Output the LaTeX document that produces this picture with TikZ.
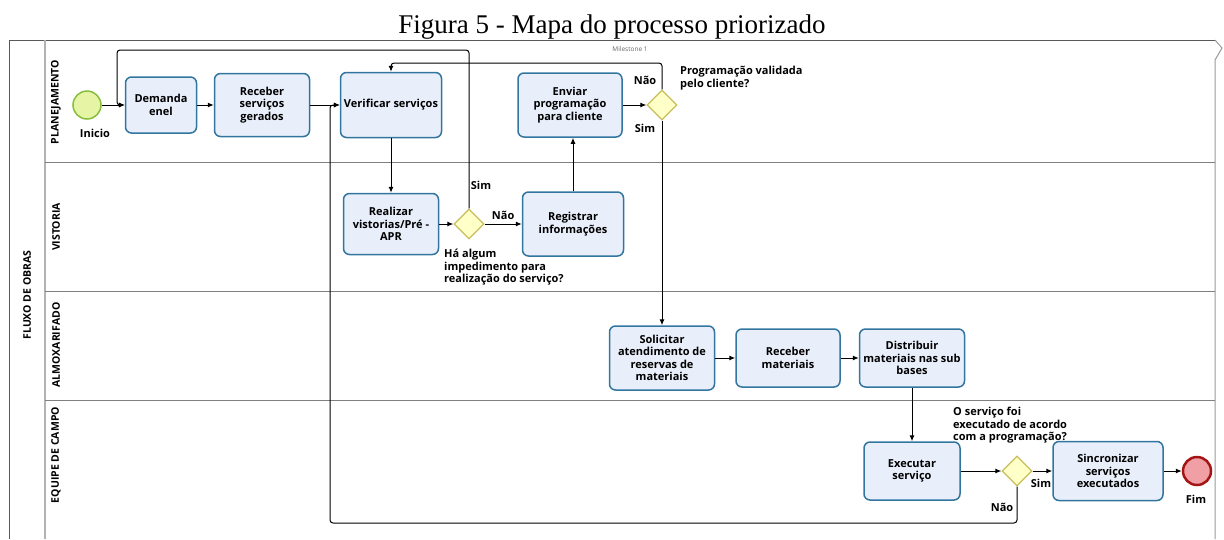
\documentclass[tikz,border=0pt]{standalone}
\usepackage{fontspec}
\setmainfont{Liberation Serif}
\setsansfont{Open Sans}
\usetikzlibrary{shapes.geometric,arrows.meta}

\definecolor{taskfill}{RGB}{232,238,250}
\definecolor{taskline}{RGB}{50,118,160}
\definecolor{startfill}{RGB}{230,245,165}
\definecolor{startline}{RGB}{135,190,60}
\definecolor{endfill}{RGB}{240,160,165}
\definecolor{endline}{RGB}{165,20,20}
\definecolor{gatefill}{RGB}{255,255,200}
\definecolor{gateline}{RGB}{200,190,90}

\tikzset{
  task/.style={draw=taskline, fill=taskfill, line width=1.5pt, rounded corners=6pt, align=center,
    font=\sffamily\bfseries\fontsize{11}{12.5}\selectfont, inner sep=2pt},
  gate/.style={diamond, aspect=1, draw=gateline, fill=gatefill, line width=1.2pt,
    minimum width=30pt, minimum height=30pt, inner sep=0pt},
  flow/.style={line width=1pt, ->, rounded corners=3pt},
  lbl/.style={font=\sffamily\bfseries\fontsize{11}{12.5}\selectfont, inner sep=0pt},
  lanelbl/.style={rotate=90, font=\sffamily\bfseries\fontsize{10.5}{12}\selectfont},
  >={Latex[length=6pt,width=5pt]}
}

\begin{document}
\begin{tikzpicture}[x=1pt, y=-1pt]
        \useasboundingbox (0,0) rectangle (1224,539);

        \node[font=\fontsize{27}{30}\selectfont, anchor=base] (titulo) at (612,33) {Figura 5 - Mapa do processo priorizado};

        \draw[line width=1pt, draw=gray!70!black] (9,539) -- (9,40) -- (1215,40);
        \draw[line width=1pt, draw=gray!80] (1215,40) -- (1222,48) -- (1215,60) -- (1215,539);
        \draw[line width=1.5pt, draw=gray!60] (45,40) -- (45,539);
        \draw[line width=1pt, draw=gray] (45,162) -- (1215,162);
        \draw[line width=1pt, draw=gray] (45,291) -- (1215,291);
        \draw[line width=1pt, draw=gray] (45,400) -- (1215,400);

        \node[lanelbl] (pool) at (27,295) {FLUXO DE OBRAS};
        \node[lanelbl] (lplan) at (56,102) {PLANEJAMENTO};
        \node[lanelbl] (lvist) at (56,227) {VISTORIA};
        \node[lanelbl] (lalmox) at (56,345) {ALMOXARIFADO};
        \node[lanelbl] (lcampo) at (56,455) {EQUIPE DE CAMPO};
        \node[font=\sffamily\fontsize{6.5}{8}\selectfont, text=gray!80!black] (milestone) at (630,49) {Milestone 1};

        \node[circle, draw=startline, fill=startfill, line width=1.5pt, minimum size=28pt] (inicio) at (87,105) {};
        \node[lbl] (tinicio) at (95,133) {Inicio};
        \node[task, minimum width=71pt, minimum height=56pt] (demanda) at (161,105) {Demanda\\enel};
        \node[task, minimum width=95pt, minimum height=63pt] (recserv) at (262,105) {Receber\\serviços\\gerados};
        \node[task, minimum width=101pt, minimum height=65pt] (verificar) at (391,105) {Verificar serviços};
        \node[task, minimum width=104pt, minimum height=64pt] (enviar) at (570,105) {Enviar\\programação\\para cliente};
        \node[gate] (gvalida) at (662,105) {};
        \node[lbl, anchor=north west, align=left] (qvalida) at (680,66) {Programação validada\\pelo cliente?};

        \node[task, minimum width=95pt, minimum height=61pt] (vistoria) at (391,224) {Realizar\\vistorias/Pré -\\APR};
        \node[gate] (gimped) at (469,224) {};
        \node[task, minimum width=101pt, minimum height=64pt] (registrar) at (573,224) {Registrar\\informações};
        \node[lbl, anchor=north west, align=left] (qimped) at (444,249) {Há algum\\impedimento para\\realização do serviço?};

        \node[task, minimum width=105pt, minimum height=64pt] (solicitar) at (662,358) {Solicitar\\atendimento de\\reservas de\\materiais};
        \node[task, minimum width=104pt, minimum height=58pt] (recmat) at (788,358) {Receber\\materiais};
        \node[task, minimum width=105pt, minimum height=58pt] (distribuir) at (912,358) {Distribuir\\materiais nas sub\\bases};

        \node[task, minimum width=96pt, minimum height=58pt] (executar) at (912,471) {Executar\\serviço};
        \node[gate] (gexec) at (1017,471) {};
        \node[task, minimum width=110pt, minimum height=59pt] (sincronizar) at (1108,471) {Sincronizar\\serviços\\executados};
        \node[circle, draw=endline, fill=endfill, line width=2.5pt, minimum size=28pt] (fim) at (1197,471) {};
        \node[lbl] (tfim) at (1196,499) {Fim};
        \node[lbl, anchor=north west, align=left] (qexec) at (953,407) {O serviço foi\\executado de acordo\\com a programação?};

        \coordinate (topimped) at (117,50);
        \coordinate (topvalida) at (391,63);
        \coordinate (botexec) at (330,523);

        \draw[flow] (inicio) -- (demanda);
        \draw[flow] (demanda) -- (recserv);
        \draw[flow] (recserv) -- (verificar);
        \draw[flow] (verificar) -- (vistoria);
        \draw[flow] (vistoria) -- (gimped);
        \draw[flow] (gimped) -- (registrar) node[lbl, midway, above=4pt]() {Não};
        \draw[flow] (gimped.north) |- (topimped) |- (demanda.west);
        \draw[flow] (registrar.north) -- (registrar.north |- enviar.south);
        \draw[flow] (enviar) -- (gvalida);
        \draw[flow] (gvalida.north) |- (topvalida) -- (verificar.north);
        \draw[flow] (gvalida.south) -- (solicitar.north);
        \draw[flow] (solicitar) -- (recmat);
        \draw[flow] (recmat) -- (distribuir);
        \draw[flow] (distribuir) -- (executar);
        \draw[flow] (executar) -- (gexec);
        \draw[flow] (gexec) -- (sincronizar);
        \draw[flow] (sincronizar) -- (fim);
        \draw[flow] (gexec.south) |- (botexec) |- (verificar.west);

        \node[lbl] (simimped) at (481,185) {Sim};
        \node[lbl] (naovalida) at (645,80) {Não};
        \node[lbl] (simvalida) at (645,128) {Sim};
        \node[lbl] (simexec) at (1041,483) {Sim};
        \node[lbl] (naoexec) at (1002,507) {Não};
    \end{tikzpicture}
\end{document}
